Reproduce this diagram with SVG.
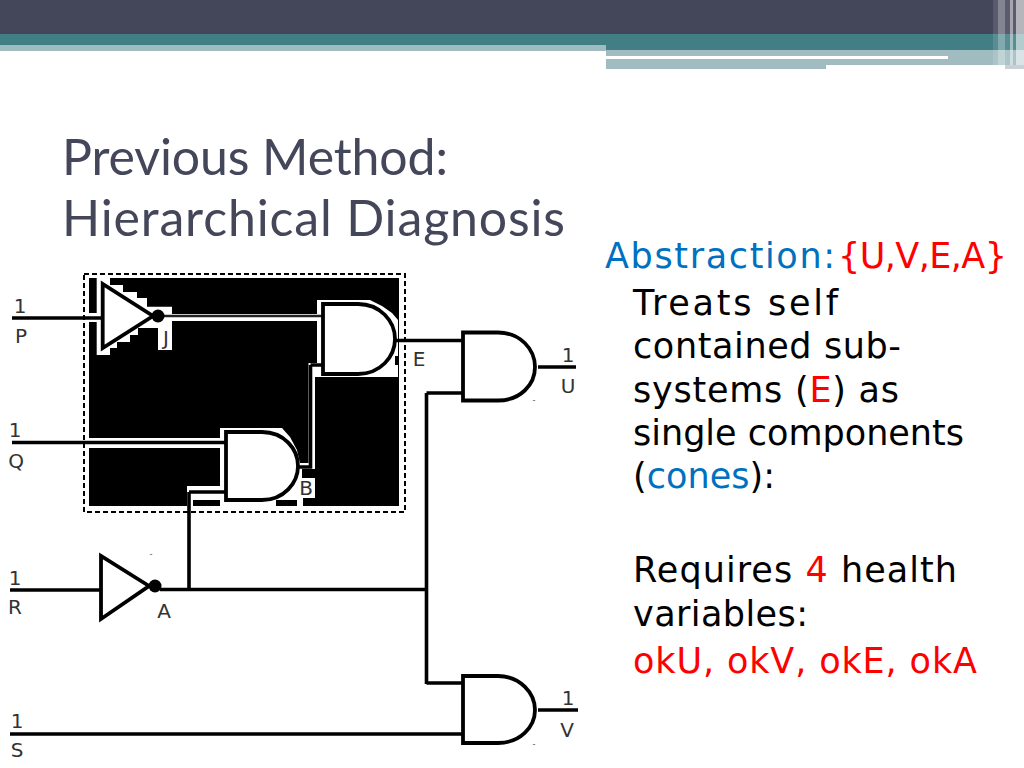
<svg xmlns="http://www.w3.org/2000/svg" width="1024" height="768" viewBox="0 0 1024 768">
<style>
.w{fill:none;stroke:#000;stroke-width:3.6}
.n{fill:none;stroke:#222;stroke-width:2.4}
.g{fill:#fff;stroke:#000;stroke-width:3.8}
.l{font-family:"DejaVu Sans",sans-serif;font-size:20px;fill:#333;text-anchor:middle}
.d{font-family:"Liberation Sans",Arial,sans-serif;font-size:9px;fill:#555;text-anchor:middle}
.t{font-family:Lato,"Noto Sans",sans-serif;font-size:50px;fill:#44465a}
.b{font-family:"DejaVu Sans",sans-serif;font-size:35px;fill:#000}
.red{fill:#f00}.blue{fill:#0070c0}
</style>
<rect width="1024" height="768" fill="#fff"/>
<g id="header">
<rect width="1024" height="34" fill="#44465a"/>
<rect y="34" width="606" height="11" fill="#417f84"/>
<rect y="45" width="606" height="6" fill="#a0bcc0"/>
<rect x="606" y="34" width="418" height="16" fill="#417f84"/>
<rect x="606" y="50" width="418" height="15" fill="#a0bcc0"/>
<rect x="606" y="65" width="220" height="4" fill="#a0bcc0"/>
<rect x="606" y="56" width="342" height="3" fill="#fff"/>
<rect x="993" y="0" width="31" height="65" fill="#fff" opacity=".12"/>
<rect x="998" y="0" width="7" height="65" fill="#fff" opacity=".25"/>
<rect x="1010" y="0" width="3" height="65" fill="#fff" opacity=".45"/>
<rect x="1016" y="0" width="8" height="65" fill="#fff" opacity=".55"/>
<rect x="1005" y="65" width="19" height="4" fill="#c8d2d4"/>
</g>
<g id="title"><text class="t" x="62" y="175" textLength="386">Previous Method:</text><text class="t" x="62" y="236" textLength="503">Hierarchical Diagnosis</text></g>
<g id="subsystem">
<rect x="84" y="274" width="321" height="238" fill="#fff" stroke="#000" stroke-width="2" stroke-dasharray="5 3"/>
<path d="M89 278H399V506H89Z" fill="#000"/>
<path d="M96.700 278H110V285H123V292H137V298H147V306.700H172V314H317V300H370L382 306L392 313L398 320V356H395V365H398V377H315V469H302V478H315V498H303V506H297V500H276V506H220V500H193V506H187V486H220V448H89V438H220V428H282L290 437L297 450L300 463H308.500V363H317V321H172V350H158V328H138V335H130V342H117V348H110V355H96.700V322H89V313H96.700Z" fill="#fff"/>
</g>
<g id="connectors">
<path class="w" d="M12 318H102M396 340.500H463M310.500 365H323M310.500 365V467H298M12 442.500H226M189 492H226M189 492V590M10 590H100M160 589.500H425M426.500 393V684M426.500 393H463M426.500 683H463M10 734H463M538 367H576M538 710H578"/>
<path class="n" d="M163 316H323"/>
</g>
<g id="invP"><path class="g" d="M102.700 284V348L153 316Z"/><circle cx="158" cy="316" r="6.500"/></g>
<g id="gateE"><path class="g" d="M323 304H358C380 304 395 321 395 339C395 357 380 374 358 374H323Z"/></g>
<g id="gateB"><path class="g" d="M226 432H262C284 432 298 449 298 466C298 483 284 500 262 500H226Z"/></g>
<g id="invA"><path class="g" d="M101 556V619L149 586Z"/><circle cx="155" cy="586" r="6.500"/></g>
<g id="gateU"><path class="g" d="M463 332.500H498C520 332.500 535 349 535 367C535 385 520 400.500 498 400.500H463Z"/></g>
<g id="gateV"><path class="g" d="M463 676H498C520 676 535 693 535 710C535 727 520 743 498 743H463Z"/></g>
<g id="labels">
<text class="l" x="20" y="313">1</text><text class="l" x="21" y="343">P</text>
<text class="l" x="15" y="437">1</text><text class="l" x="16" y="468">Q</text>
<text class="l" x="15" y="585">1</text><text class="l" x="15" y="614">R</text>
<text class="l" x="17" y="728">1</text><text class="l" x="17" y="757">S</text>
<text class="l" x="166" y="345">J</text><text class="l" x="419" y="366">E</text>
<text class="l" x="306" y="495">B</text><text class="l" x="164" y="618">A</text>
<text class="l" x="568" y="362">1</text><text class="l" x="568" y="393">U</text>
<text class="l" x="568" y="705">1</text><text class="l" x="567" y="737">V</text>
<text class="d" x="151" y="557">-</text><text class="d" x="534" y="403">-</text><text class="d" x="534" y="747">-</text>
</g>
<g id="body">
<text class="b blue" x="605" y="268" textLength="230">Abstraction:</text>
<text class="b red" x="838" y="268" textLength="169">{U,V,E,A}</text>
<text class="b" x="633" y="315" textLength="205">Treats self</text>
<text class="b" x="633" y="358" textLength="268">contained sub-</text>
<text class="b" x="633" y="402" textLength="266">systems (<tspan class="red">E</tspan>) as</text>
<text class="b" x="633" y="445" textLength="331">single components</text>
<text class="b" x="633" y="488" textLength="142">(<tspan class="blue">cones</tspan>):</text>
<text class="b" x="633" y="582" textLength="324">Requires <tspan class="red">4</tspan> health</text>
<text class="b" x="633" y="626" textLength="175">variables:</text>
<text class="b red" x="633" y="673" textLength="344">okU, okV, okE, okA</text>
</g>
</svg>
